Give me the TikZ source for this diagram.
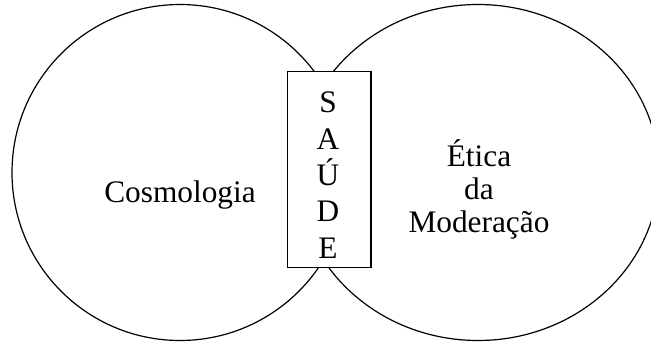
\documentclass[tikz,border=0pt]{standalone}
\usepackage{fontspec}
\setmainfont{Liberation Serif}
\usetikzlibrary{positioning}
\tikzset{
  ring/.style  = {draw=black, line width=0.9pt},
  frame/.style = {draw=black, fill=white, line width=0.9pt, inner sep=0pt,
                  minimum width=62.6pt, minimum height=147pt},
  word/.style  = {font=\fontsize{23.5}{24.75}\selectfont, inner sep=0pt, align=center},
  tall/.style  = {font=\fontsize{23.5}{27.2}\selectfont, inner sep=0pt, align=center},
}
\begin{document}
\begin{tikzpicture}[x=0.75pt,y=-0.75pt]
  \clip (0,0) rectangle (651,343);
  % the two fields
  \draw[ring] (180,172.5) circle (168);
  \draw[ring] (478,172.5) ellipse (181 and 168);
  % the box where they meet
  \node[frame] (saude) at (329.25,169.5) {};
  \node[tall,anchor=base] (letters) at (328,258) {S\\A\\Ú\\D\\E};
  \node[word,anchor=base] (cosmo) at (180,202) {Cosmologia};
  \node[word,anchor=base] (etica) at (479,232) {Ética\\da\\Moderação};
\end{tikzpicture}
\end{document}
